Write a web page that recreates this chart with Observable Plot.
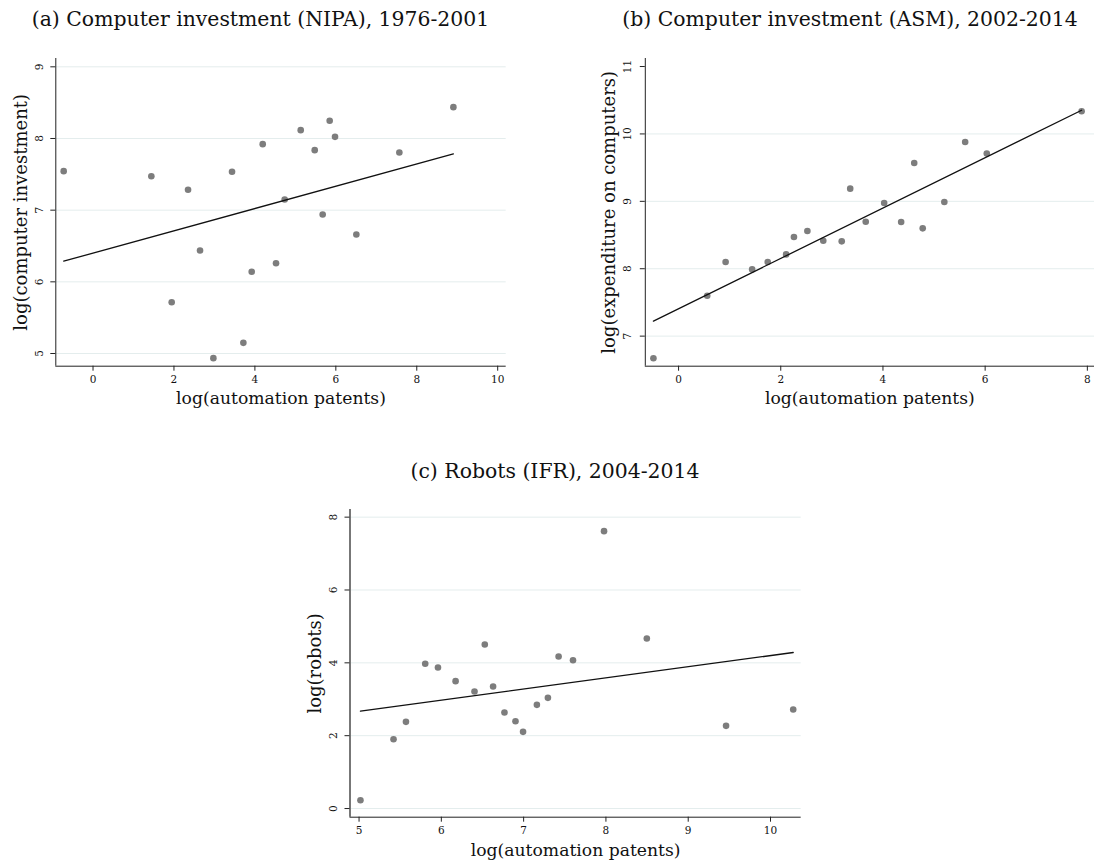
<!DOCTYPE html>
<html>
<head>
<meta charset="utf-8">
<script src="https://cdn.jsdelivr.net/npm/d3@7"></script>
<script src="https://cdn.jsdelivr.net/npm/@observablehq/plot@0.6"></script>
<style>
  html, body { margin: 0; padding: 0; background: #fff; }
  #root { position: relative; width: 1095px; height: 861px; overflow: hidden; font-family: "DejaVu Serif", serif; }
  .title { position: absolute; width: 600px; text-align: center; font-size: 20.4px; line-height: 26px; color: #111; white-space: nowrap; }
  .panel { position: absolute; }
</style>
</head>
<body>
<div id="root"></div>
<script>
// ---------- Data ----------
// (a) Computer investment (NIPA), 1976-2001
const patentsA = [-0.725, 1.441, 2.348, 1.944, 2.644, 2.974, 3.435, 3.715, 3.921, 4.193, 4.522, 4.736, 5.132, 5.478, 5.675, 5.848, 5.980, 6.507, 7.570, 8.905];
const investA  = [ 7.544, 7.474, 7.284, 5.716, 6.437, 4.935, 7.535, 5.149, 6.140, 7.921, 6.260, 7.149, 8.116, 7.837, 6.940, 8.247, 8.023, 6.660, 7.805, 8.437];
const fitAx = [-0.725, 8.905];
const fitAy = [6.288, 7.786];

// (b) Computer investment (ASM), 2002-2014
const patentsB = [-0.492, 0.561, 0.921, 1.440, 1.745, 2.105, 2.258, 2.521, 2.832, 3.193, 3.359, 3.663, 4.024, 4.356, 4.612, 4.778, 5.201, 5.609, 6.032, 7.888];
const expendB  = [ 6.673, 7.599, 8.099, 7.990, 8.099, 8.213, 8.470, 8.559, 8.416, 8.406, 9.188, 8.698, 8.975, 8.693, 9.569, 8.599, 8.990, 9.881, 9.708, 10.337];
const fitBx = [-0.492, 7.888];
const fitBy = [7.223, 10.351];

// (c) Robots (IFR), 2004-2014
const patentsC = [5.017, 5.419, 5.570, 5.804, 5.959, 6.173, 6.403, 6.528, 6.629, 6.767, 6.901, 6.993, 7.161, 7.295, 7.425, 7.600, 7.977, 8.497, 9.460, 10.276];
const robotsC  = [0.229, 1.904, 2.380, 3.973, 3.872, 3.497, 3.213, 4.503, 3.350, 2.636, 2.398, 2.105, 2.847, 3.039, 4.174, 4.073, 7.616, 4.668, 2.270, 2.719];
const fitCx = [5.017, 10.276];
const fitCy = [2.673, 4.284];

// Ticks
const xTicksA = [0, 2, 4, 6, 8, 10];
const yTicksA = [5, 6, 7, 8, 9];
const gridA   = [5, 6, 7, 8, 9];
const xTicksB = [0, 2, 4, 6, 8];
const yTicksB = [7, 8, 9, 10, 11];
const gridB   = [7, 8, 9, 10];
const xTicksC = [5, 6, 7, 8, 9, 10];
const yTicksC = [0, 2, 4, 6, 8];
const gridC   = [0, 2, 4, 6, 8];

// Texts
const titles = [
  "(a) Computer investment (NIPA), 1976-2001",
  "(b) Computer investment (ASM), 2002-2014",
  "(c) Robots (IFR), 2004-2014"
];
const xLabel = "log(automation patents)";
const yLabels = ["log(computer investment)", "log(expenditure on computers)", "log(robots)"];

// ---------- Build ----------
const zip = (xs, ys) => xs.map((x, i) => ({x, y: ys[i]}));
const root = document.getElementById("root");

function panel(cfg) {
  const pts = zip(cfg.xs, cfg.ys);
  const fit = zip(cfg.fx, cfg.fy);
  const chart = Plot.plot({
    width: cfg.width,
    height: cfg.height,
    marginLeft: cfg.ml, marginRight: cfg.mr, marginTop: cfg.mt, marginBottom: cfg.mb,
    style: {fontFamily: "DejaVu Serif, serif", fontSize: "10px", background: "transparent", color: "#111", overflow: "visible"},
    x: {domain: cfg.xDomain, axis: null},
    y: {domain: cfg.yDomain, axis: null},
    marks: [
      Plot.gridY(cfg.grid, {stroke: "#e4eded", strokeOpacity: 1, strokeWidth: 1}),
      Plot.ruleX([cfg.xDomain[0]], {stroke: cfg.leftAxisColor || "#222", strokeWidth: cfg.leftAxisWidth || 1}),
      Plot.ruleY([cfg.yDomain[0]], {stroke: "#222", strokeWidth: 1}),
      Plot.axisX({ticks: cfg.xTicks, tickSize: 5, tickPadding: 4, fontSize: 10.5, label: null, stroke: "#222", tickFormat: d => String(d)}),
      Plot.axisY({ticks: cfg.yTicks, tickSize: 5, tickFormat: () => "", label: null, stroke: "#222"}),
      Plot.text(cfg.yTicks, {y: d => d, text: d => String(d), frameAnchor: "left", rotate: -90, textAnchor: "middle", lineAnchor: "middle", dx: cfg.yTickDx, fontSize: 10.5, fill: "#111"}),
      Plot.dot(pts, {x: "x", y: "y", r: 3.3, fill: "#7d7d7d", stroke: "none"}),
      Plot.line(fit, {x: "x", y: "y", stroke: "#111", strokeWidth: 1.3}),
      Plot.text([cfg.xLabel], {frameAnchor: "bottom", dy: cfg.xLabelDy, fontSize: 17.2, lineAnchor: "middle", fill: "#111"}),
      Plot.text([cfg.yLabel], {frameAnchor: "left", dx: cfg.yLabelDx, rotate: -90, fontSize: 18, lineAnchor: "middle", textAnchor: "middle", fill: "#111"})
    ]
  });
  chart.classList.add("panel");
  chart.style.left = cfg.left + "px";
  chart.style.top = cfg.top + "px";
  root.appendChild(chart);

  const t = document.createElement("div");
  t.className = "title";
  t.textContent = cfg.title;
  t.style.left = (cfg.titleCx - 300) + "px";
  t.style.top = (cfg.titleCy - 13) + "px";
  root.appendChild(t);
}

panel({
  left: 0, top: 0, width: 530, height: 420,
  ml: 55.3, mr: 24.3, mt: 58, mb: 54.3,
  xDomain: [-0.92, 10.21], yDomain: [4.823, 9.116],
  xs: patentsA, ys: investA, fx: fitAx, fy: fitAy,
  xTicks: xTicksA, yTicks: yTicksA, grid: gridA,
  yTickDx: -16, yLabelDx: -34.6, xLabelDy: 32.3,
  xLabel: xLabel, yLabel: yLabels[0],
  title: titles[0], titleCx: 260.5, titleCy: 19
});

panel({
  left: 540, top: 0, width: 555, height: 420,
  ml: 104.8, mr: 1, mt: 58, mb: 54.3,
  xDomain: [-0.651, 8.14], yDomain: [6.554, 11.119],
  xs: patentsB, ys: expendB, fx: fitBx, fy: fitBy,
  xTicks: xTicksB, yTicks: yTicksB, grid: gridB,
  yTickDx: -17.5, yLabelDx: -36.5, xLabelDy: 32.3,
  xLabel: xLabel, yLabel: yLabels[1],
  title: titles[1], titleCx: 850, titleCy: 19
});

panel({
  left: 280, top: 440, width: 540, height: 421,
  ml: 69.5, mr: 19.3, mt: 69, mb: 44.3,
  xDomain: [4.89, 10.373], yDomain: [-0.238, 8.21],
  xs: patentsC, ys: robotsC, fx: fitCx, fy: fitCy,
  xTicks: xTicksC, yTicks: yTicksC, grid: gridC,
  yTickDx: -16.2, yLabelDx: -34.5, xLabelDy: 33,
  xLabel: xLabel, yLabel: yLabels[2],
  leftAxisColor: "#777", leftAxisWidth: 2,
  title: titles[2], titleCx: 555, titleCy: 471
});
</script>
</body>
</html>
